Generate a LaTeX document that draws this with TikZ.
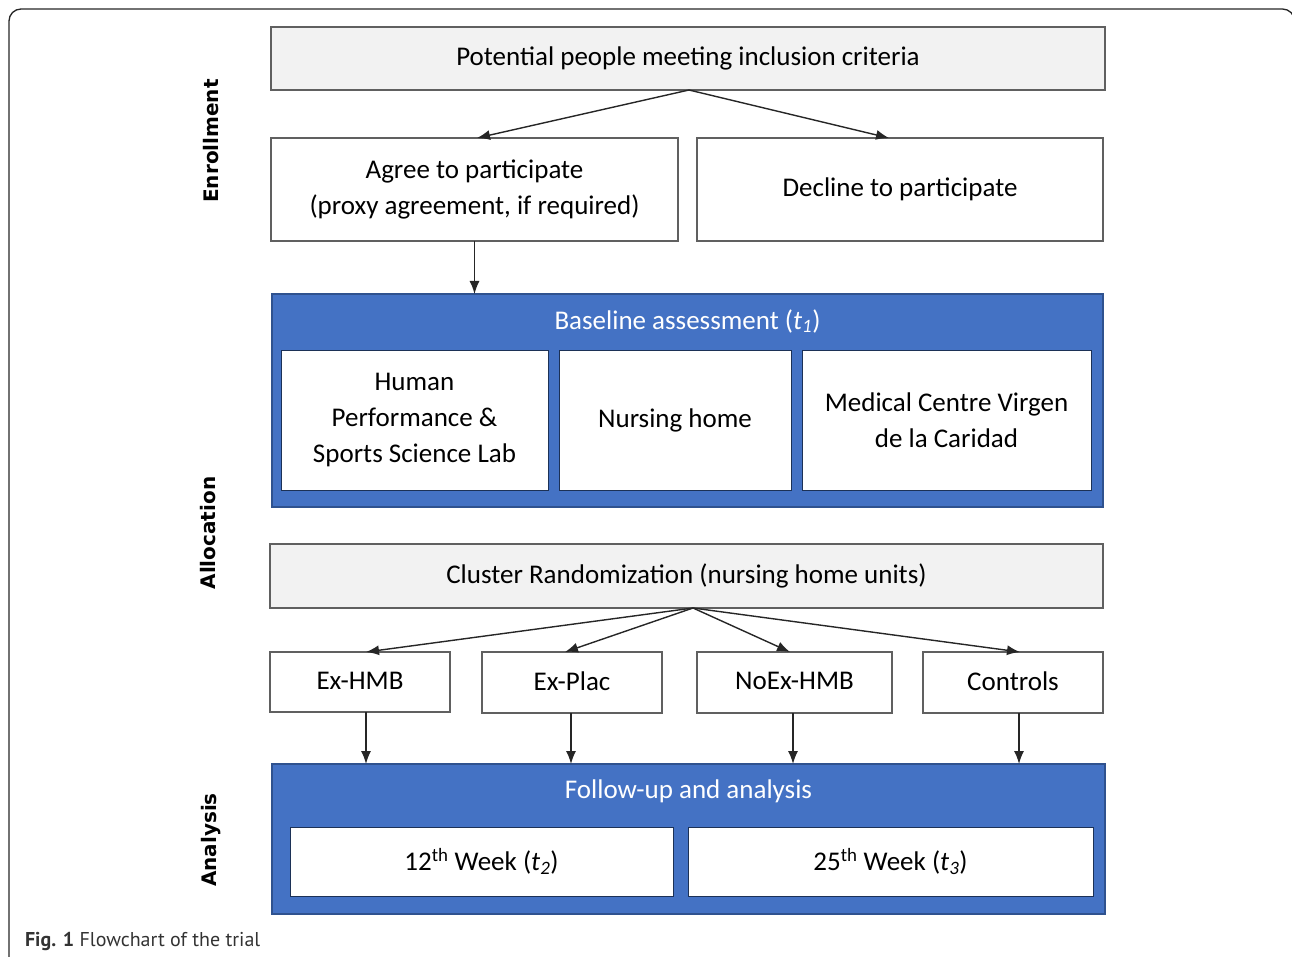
\documentclass[tikz,border=0pt]{standalone}
\usepackage{fontspec}
\setmainfont{Carlito}
\newfontfamily\sidefont{DejaVu Sans}
\newfontfamily\capfont{PT Sans}
\usetikzlibrary{arrows.meta,calc}
\definecolor{bluefill}{HTML}{4472C4}
\definecolor{blueedge}{HTML}{2F528F}
\definecolor{grayfill}{HTML}{F2F2F2}
\definecolor{boxedge}{HTML}{606060}
\definecolor{captext}{HTML}{333333}
\begin{document}
\begin{tikzpicture}[x=1pt,y=-1pt,
  every node/.style={inner sep=0pt, outer sep=0pt},
  box/.style={draw=boxedge, line width=1.2pt, fill=white, align=center,
    font=\fontsize{27}{36}\selectfont},
  graybox/.style={box, fill=grayfill},
  bluebox/.style={draw=blueedge, line width=1.2pt, fill=bluefill},
  bluetitle/.style={text=white, font=\fontsize{27}{36}\selectfont},
  inbox/.style={draw=blueedge!60!black, line width=1pt, fill=white, align=center,
    font=\fontsize{27}{36}\selectfont},
  side/.style={rotate=90, font=\sidefont\bfseries\fontsize{20}{22}\selectfont},
  arr/.style={-{Latex[length=13pt,width=10pt]}, line width=1.4pt, draw=black!85},
]
\useasboundingbox (0,0) rectangle (1292,957);
% outer frame
\draw[line width=1.3pt, rounded corners=12pt, draw=black!85]
  (9,965) -- (9,9) -- (1294.5,9) -- (1294.5,965);

% side labels
\node[side] (lenr) at (211,141) {Enrollment};
\node[side] (lall) at (208,533) {Allocation};
\node[side] (lana) at (211,840) {Analysis};

% enrollment
\node[graybox, minimum width=834, minimum height=63, text depth=4pt] (pot) at (688,58.5)
  {Potential people meeting inclusion criteria};
\node[box, minimum width=407, minimum height=103] (agree) at (474.5,189.5)
  {Agree to participate\\(proxy agreement, if required)};
\node[box, minimum width=406, minimum height=103, text depth=4pt] (dec) at (900,189.5)
  {Decline to participate};

% baseline
\node[bluebox, minimum width=831, minimum height=213] (base) at (687.5,400.5) {};
\node[bluetitle] (btitle) at (687.5,321) {Baseline assessment (\textit{t}\textsubscript{\textit{1}})};
\node[inbox, minimum width=267, minimum height=140] (hum) at (414.5,420)
  {Human\\Performance \&\\Sports Science Lab};
\node[inbox, minimum width=232, minimum height=140] (nur) at (675,420)
  {Nursing home};
\node[inbox, minimum width=289, minimum height=140] (med) at (946.5,420)
  {Medical Centre Virgen\\de la Caridad};

% allocation
\node[graybox, minimum width=833, minimum height=64, text depth=4pt] (clu) at (686.5,576)
  {Cluster Randomization (nursing home units)};
\node[box, minimum width=180, minimum height=60, text depth=3pt] (a1) at (360,682) {Ex-HMB};
\node[box, minimum width=180, minimum height=61, text depth=3pt] (a2) at (572,682.5) {Ex-Plac};
\node[box, minimum width=195, minimum height=61, text depth=3pt] (a3) at (794.5,682.5) {NoEx-HMB};
\node[box, minimum width=180, minimum height=61, text depth=3pt] (a4) at (1013,682.5) {Controls};

% follow-up
\node[bluebox, minimum width=833, minimum height=150] (fu) at (688.5,839) {};
\node[bluetitle] (ftitle) at (688.5,791) {Follow-up and analysis};
\node[inbox, minimum width=383, minimum height=69] (w12) at (481.5,861.5)
  {12\textsuperscript{th} Week (\textit{t}\textsubscript{\textit{2}})};
\node[inbox, minimum width=405, minimum height=69] (w25) at (890.5,861.5)
  {25\textsuperscript{th} Week (\textit{t}\textsubscript{\textit{3}})};

% caption
\node[anchor=west, text=captext, font=\capfont\fontsize{20}{22}\selectfont] (cap) at (25,941)
  {\textbf{Fig. 1} Flowchart of the trial};

% connectors
\draw[arr] ([xshift=1]pot.south) -- ([xshift=2.5]agree.north);
\draw[arr] ([xshift=1]pot.south) -- ([xshift=-11]dec.north);
\draw[arr] (agree.south) -- (agree.south |- base.north);

\coordinate (cs) at ([xshift=6.5]clu.south);
\draw[arr] (cs) -- ([xshift=6]a1.north);
\draw[arr] (cs) -- ([xshift=-7]a2.north);
\draw[arr] (cs) -- ([xshift=-4.5]a3.north);
\draw[arr] (cs) -- ([xshift=7]a4.north);

\draw[arr] ([xshift=6]a1.south) -- ([xshift=6]a1.south |- fu.north);
\draw[arr] ([xshift=-1]a2.south) -- ([xshift=-1]a2.south |- fu.north);
\draw[arr] ([xshift=-1.5]a3.south) -- ([xshift=-1.5]a3.south |- fu.north);
\draw[arr] ([xshift=6]a4.south) -- ([xshift=6]a4.south |- fu.north);
\end{tikzpicture}
\end{document}
